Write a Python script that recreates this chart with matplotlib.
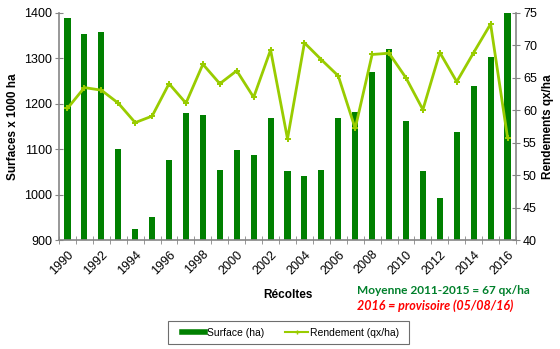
import matplotlib
import matplotlib.pyplot as plt
import numpy as np
from matplotlib.lines import Line2D
from matplotlib.patches import Rectangle

matplotlib.use('Agg')

plt.rcParams['font.family'] = ['Liberation Sans', 'DejaVu Sans']

# Harvest years, surfaces (x 1000 ha) and yields (qx/ha)
years = list(range(1990, 2017))
surfaces = [1388, 1354, 1359, 1101, 924, 951, 1076, 1180, 1175, 1055,
            1098, 1087, 1168, 1052, 1040, 1055, 1169, 1183, 1270, 1320,
            1163, 1053, 993, 1138, 1239, 1304, 1400]
rendements = [60.3, 63.5, 63.1, 61.1, 58.1, 59.1, 64.1, 61.1, 67.1, 64.1,
              66.1, 62.0, 69.3, 55.6, 70.4, 67.8, 65.3, 57.2, 68.6, 68.8,
              65.0, 60.1, 68.9, 64.4, 68.9, 73.3, 55.8]
tick_years = [str(y) for y in years[::2]]

bar_green = '#008000'
line_green = '#99cc00'
axis_grey = '#868686'

fig = plt.figure(figsize=(5.6, 3.49), dpi=100)
ax = fig.add_axes([0.1054, 0.3123, 0.8160, 0.6505])
ax2 = ax.twinx()

x = np.arange(len(years))
ax.bar(x, surfaces, width=0.36, color=bar_green, zorder=2)
ax.set_ylim(900, 1400)
ax.set_xlim(-0.5, len(years) - 0.5)
ax.set_yticks(range(900, 1401, 100))

ax2.plot(x, rendements, color=line_green, lw=2, marker='P', ms=5,
         markeredgewidth=0, zorder=3)
ax2.set_ylim(40, 75)
ax2.set_yticks(range(40, 76, 5))

# Category ticks sit between the bars, labels every second year
ax.set_xticks(np.arange(len(years) + 1) - 0.5, minor=True)
ax.set_xticks(x[::2])
ax.set_xticklabels(tick_years, rotation=45, ha='right', rotation_mode='anchor',
                   fontsize=9)
ax.tick_params(axis='x', which='major', length=0, pad=6)
ax.tick_params(axis='x', which='minor', direction='inout', length=6,
               color=axis_grey)
ax.tick_params(axis='y', direction='inout', length=6, color=axis_grey,
               labelsize=9, pad=2)
ax2.tick_params(axis='y', direction='inout', length=6, color=axis_grey,
                labelsize=9, pad=2)

for a in (ax, ax2):
    a.spines['top'].set_visible(False)
    for side in ('left', 'right', 'bottom'):
        a.spines[side].set_color(axis_grey)
        a.spines[side].set_linewidth(1.2)
ax.spines['right'].set_visible(False)
ax2.spines['left'].set_visible(False)
ax2.spines['bottom'].set_visible(False)

ax.set_ylabel('Surfaces x 1000 ha', fontsize=8.5, fontweight='bold', labelpad=4)
ax2.set_ylabel('Rendements qx/ha', fontsize=8.5, fontweight='bold', labelpad=4)

fig.text(288 / 560, 1 - 295 / 349, 'Récoltes', fontsize=8.5,
         fontweight='bold', ha='center', va='center')
fig.text(357 / 560, 1 - 291 / 349, 'Moyenne 2011-2015 = 67 qx/ha',
         family=['Lato', 'DejaVu Sans'], fontsize=8.6, fontweight='bold',
         color='#00802b', ha='left', va='center')
fig.text(357 / 560, 1 - 306 / 349, '2016 = provisoire (05/08/16)',
         family=['Lato', 'DejaVu Sans'], fontsize=9, fontweight='bold',
         style='italic', color='#ff0000', ha='left', va='center')

# Legend box below the plot
fig.patches.append(Rectangle((168 / 560, 1 - 344 / 349), 241 / 560, 23 / 349,
                             transform=fig.transFigure, fill=False,
                             edgecolor='#6e6e6e', lw=0.8))
handles = [Line2D([], [], color=bar_green, lw=4),
           Line2D([], [], color=line_green, lw=1.5, marker='P', ms=3,
                  markeredgewidth=0)]
fig.legend(handles, ['Surface (ha)', 'Rendement (qx/ha)'], ncol=2,
           loc='center', bbox_to_anchor=(291 / 560, 1 - 332.5 / 349),
           frameon=False, fontsize=7.5, handlelength=2.2, handletextpad=0.2,
           columnspacing=2.0)

fig.savefig('out.png', dpi=100)
